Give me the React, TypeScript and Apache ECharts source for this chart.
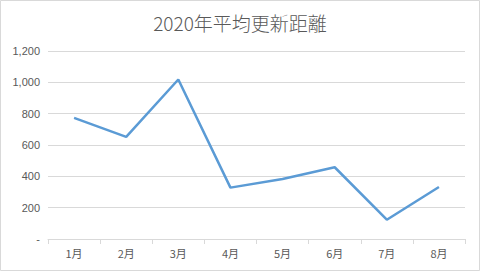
import React, { useEffect, useRef } from "react";
import * as echarts from "echarts";

const titleText = "2020年平均更新距離";
const months = ["1月", "2月", "3月", "4月", "5月", "6月", "7月", "8月"];
const distances = [773, 652, 1018, 328, 383, 458, 123, 332];
const yTicks = [0, 200, 400, 600, 800, 1000, 1200];

export default function App() {
  const ref = useRef<HTMLDivElement>(null);
  useEffect(() => {
    if (!ref.current) return;
    const chart = echarts.init(ref.current, undefined, { renderer: "svg" });
    chart.setOption({
      animation: false,
      backgroundColor: "#ffffff",
      title: {
        text: titleText,
        left: "center",
        top: 8,
        textStyle: {
          fontFamily: "Noto Sans CJK JP",
          fontWeight: 300,
          fontSize: 19,
          color: "#595959",
        },
      },
      graphic: [
        {
          type: "rect",
          shape: { x: 0.5, y: 0.5, width: 479, height: 270 },
          style: { fill: "none", stroke: "#d9d9d9", lineWidth: 1 },
          silent: true,
        },
      ],
      grid: { left: 48, right: 15, top: 51, bottom: 32 },
      xAxis: {
        type: "category",
        data: months,
        boundaryGap: true,
        axisLine: { lineStyle: { color: "#d9d9d9", width: 1 } },
        axisTick: { show: true, length: 5, lineStyle: { color: "#d9d9d9" } },
        axisLabel: {
          color: "#595959",
          fontSize: 11,
          margin: 8,
          fontFamily: "Noto Sans CJK JP",
        },
      },
      yAxis: {
        type: "value",
        min: yTicks[0],
        max: yTicks[yTicks.length - 1],
        interval: 200,
        axisLine: { show: false },
        axisTick: { show: false },
        splitLine: { lineStyle: { color: "#d9d9d9", width: 1 } },
        axisLabel: {
          color: "#595959",
          fontSize: 11,
          margin: 8,
          fontFamily: "Liberation Sans",
          formatter: (v: number) => (v === 0 ? "-" : v.toLocaleString("en-US")),
        },
      },
      series: [
        {
          type: "line",
          data: distances,
          symbol: "none",
          lineStyle: { color: "#5b9bd5", width: 2.5 },
          itemStyle: { color: "#5b9bd5" },
        },
      ],
    });
    return () => chart.dispose();
  }, []);
  return (
    <div
      ref={ref}
      style={{
        position: "fixed",
        left: 0,
        top: 0,
        width: 480,
        height: 271,
        background: "#fff",
      }}
    />
  );
}
